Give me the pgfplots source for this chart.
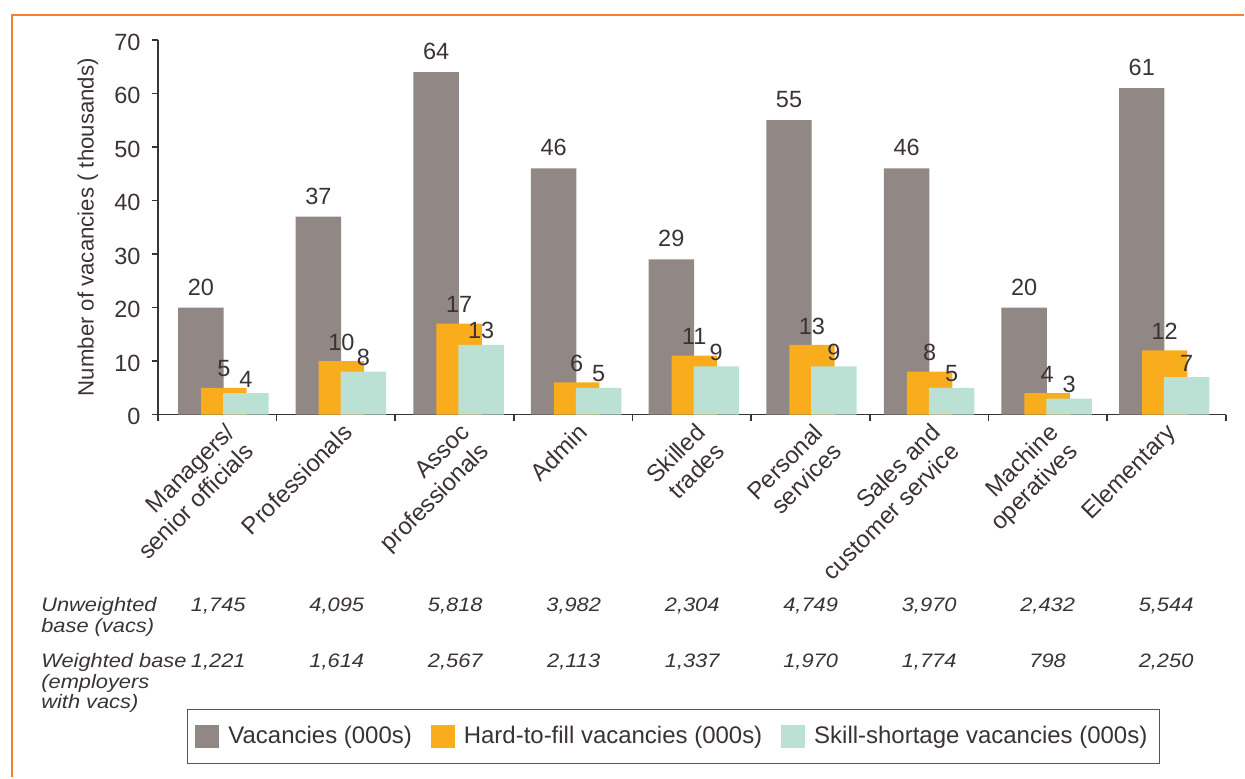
\documentclass[border=0pt]{standalone}
\usepackage{fontspec}
\setmainfont{Liberation Sans}
\newfontfamily\tabfont[FakeStretch=1.12]{Liberation Sans}
\usepackage{pgfplots}
\pgfplotsset{compat=1.18}
\definecolor{vgrey}{RGB}{145,135,132}
\definecolor{vorange}{RGB}{249,173,28}
\definecolor{vteal}{RGB}{186,225,212}
\definecolor{txt}{RGB}{59,50,54}
\definecolor{frame}{RGB}{245,128,45}
\definecolor{legline}{RGB}{91,82,86}
\begin{document}
\begin{tikzpicture}[x=1pt,y=1pt]
\path (0,0) rectangle (622.5,389);
\draw[frame, line width=1.3pt] (6,0) -- (6,381.5) -- (622.5,381.5);
\begin{axis}[
  at={(79pt,181.5pt)}, anchor=south west,
  scale only axis, width=534.5pt, height=187.5pt,
  xmin=0, xmax=9, ymin=0, ymax=70,
  axis x line=bottom, axis y line=left,
  axis line style={-, draw=txt, line width=0.8pt},
  tick align=outside,
  ytick={0,10,...,70},
  major tick length=3pt, minor tick length=3pt,
  tick style={draw=txt, line width=0.8pt},
  xtick={0.556,1.547,2.539,3.530,4.521,5.513,6.504,7.495,8.486},
  xticklabels={{Managers/\\senior officials},{Professionals},{Assoc\\professionals},{Admin},{Skilled\\trades},{Personal\\services},{Sales and\\customer service},{Machine\\operatives},{Elementary}},
  major x tick style={draw=none},
  minor xtick={0,1,...,9},
  /pgf/number format/assume math mode=true,
  yticklabel style={font=\fontsize{11.75}{13}\selectfont, text=txt, inner sep=0pt, xshift=-5.5pt, yshift=-1pt},
  xticklabel style={font=\fontsize{12}{13.5}\selectfont, text=txt, xshift=0pt, yshift=-0.5pt, rotate=45, anchor=north east, inner sep=0pt, align=right},
  ylabel={Number of vacancies ( thousands)},
  every axis y label/.style={at={(axis description cs:-0.0655,0.5)}, rotate=90, anchor=center},
  ylabel style={font=\fontsize{11.1}{12}\selectfont, text=txt},
  legend columns=3,
  legend image code/.code={\fill[#1] (0pt,-5.8pt) rectangle (12pt,5.8pt);},
  legend style={at={(axis description cs:0.0271,-0.785)}, anchor=north west,
    draw=legline, line width=0.7pt, inner xsep=4pt, inner ysep=6.5pt,
    font=\fontsize{12}{13}\selectfont, text=txt,
    /tikz/every odd column/.append style={column sep=2.5pt},
    /tikz/every even column/.append style={column sep=7.5pt}},
  clip=false,
]
\addplot[ybar, bar width=22.75pt, bar shift=-11.5pt, fill=vgrey, draw=none,
  nodes near coords, every node near coord/.append style={anchor=base, xshift=-11.5pt, yshift=6.25pt, font=\fontsize{11.75}{13}\selectfont, text=txt}]
  coordinates {(0.556,20) (1.547,37) (2.539,64) (3.530,46) (4.521,29) (5.513,55) (6.504,46) (7.495,20) (8.486,61)};
\addlegendentry{Vacancies (000s)}
\addplot[ybar, bar width=22.75pt, bar shift=0pt, fill=vorange, draw=none,
  nodes near coords, every node near coord/.append style={anchor=base, yshift=5.5pt, font=\fontsize{11.75}{13}\selectfont, text=txt}]
  coordinates {(0.556,5) (1.547,10) (2.539,17) (3.530,6) (4.521,11) (5.513,13) (6.504,8) (7.495,4) (8.486,12)};
\addlegendentry{Hard-to-fill vacancies (000s)}
\addplot[ybar, bar width=22.75pt, bar shift=11pt, fill=vteal, draw=none,
  nodes near coords, every node near coord/.append style={anchor=base, xshift=11pt, yshift=3pt, font=\fontsize{11.75}{13}\selectfont, text=txt}]
  coordinates {(0.556,4) (1.547,8) (2.539,13) (3.530,5) (4.521,9) (5.513,9) (6.504,5) (7.495,3) (8.486,7)};
\addlegendentry{Skill-shortage vacancies (000s)}
\end{axis}
\begin{scope}[every node/.style={font=\tabfont\itshape\fontsize{9.75}{11}\selectfont, text=txt, inner sep=0pt}]
\node[anchor=base west] at (20.5,83) {Unweighted};
\node[anchor=base west] at (20.5,72.5) {base (vacs)};
\node[anchor=base west] at (20.5,54.75) {Weighted base};
\node[anchor=base west] at (20.5,44.5) {(employers};
\node[anchor=base west] at (20.5,34.5) {with vacs)};
\node[anchor=base] at (109.25,83) {1,745};
\node[anchor=base] at (168.55,83) {4,095};
\node[anchor=base] at (227.85,83) {5,818};
\node[anchor=base] at (287.15,83) {3,982};
\node[anchor=base] at (346.45,83) {2,304};
\node[anchor=base] at (405.75,83) {4,749};
\node[anchor=base] at (465.05,83) {3,970};
\node[anchor=base] at (524.35,83) {2,432};
\node[anchor=base] at (583.65,83) {5,544};
\node[anchor=base] at (109.25,54.75) {1,221};
\node[anchor=base] at (168.55,54.75) {1,614};
\node[anchor=base] at (227.85,54.75) {2,567};
\node[anchor=base] at (287.15,54.75) {2,113};
\node[anchor=base] at (346.45,54.75) {1,337};
\node[anchor=base] at (405.75,54.75) {1,970};
\node[anchor=base] at (465.05,54.75) {1,774};
\node[anchor=base] at (524.35,54.75) {798};
\node[anchor=base] at (583.65,54.75) {2,250};
\end{scope}
\end{tikzpicture}
\end{document}
